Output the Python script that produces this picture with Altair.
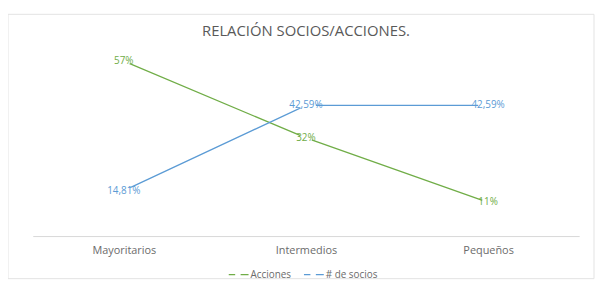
import altair as alt
import pandas as pd

categories = ["Mayoritarios", "Intermedios", "Pequeños"]
acciones = [57, 32, 11]
acciones_labels = ["57%", "32%", "11%"]
socios = [14.81, 42.59, 42.59]
socios_labels = ["14,81%", "42,59%", "42,59%"]
series_names = ["Acciones", "# de socios"]
colors = ["#70AD47", "#5B9BD5"]
title_text = "RELACIÓN SOCIOS/ACCIONES."

rows = []
for c, v, l in zip(categories, acciones, acciones_labels):
    rows.append({"cat": c, "val": v, "lab": l, "serie": series_names[0], "box": "a"})
for c, v, l in zip(categories, socios, socios_labels):
    rows.append({"cat": c, "val": v, "lab": l, "serie": series_names[1], "box": "b"})
df = pd.DataFrame(rows)

W, H = 552, 186
FONT = "Open Sans"

x = alt.X("cat:N", sort=categories, title=None,
          axis=alt.Axis(domainColor="#d9d9d9", ticks=False, labelAngle=0,
                        labelFontSize=11, labelColor="#6b6b6b", labelFont=FONT,
                        labelPadding=9, grid=False))
y = alt.Y("val:Q", scale=alt.Scale(domain=[0, 60]), axis=None)
color_scale = alt.Scale(domain=series_names, range=colors)
color = alt.Color("serie:N", scale=color_scale,
                  legend=alt.Legend(title=None, orient="none", direction="horizontal",
                                    legendX=197, legendY=214,
                                    symbolType="M-1,0L-0.35,0M0.2,0L1,0",
                                    symbolStrokeWidth=1.2, symbolSize=400,
                                    labelFont=FONT, labelFontSize=10, labelColor="#6b6b6b",
                                    columnPadding=10, labelOffset=1))

frame = alt.Chart(alt.Data(values=[{}])).mark_rect(
    fill=None, stroke="#e3e3e3", strokeWidth=1, clip=False
).encode(x=alt.value(-25), x2=alt.value(567), y=alt.value(-38), y2=alt.value(229))

title = alt.Chart(alt.Data(values=[{"t": title_text}])).mark_text(
    font=FONT, fontSize=15, color="#595959", baseline="middle", align="center"
).encode(x=alt.value(W / 2), y=alt.value(-21), text="t:N")

lines = alt.Chart(df).mark_line(strokeWidth=1.3).encode(x=x, y=y, color=color, detail="serie:N")

box_acc = "M-0.3,-0.14L0.3,-0.14L0.3,0.14L-0.3,0.14Z"
box_soc = "M-0.5,-0.14L0.5,-0.14L0.5,0.14L-0.5,0.14Z"
boxes = alt.Chart(df).mark_point(filled=True, fill="white", opacity=1, strokeWidth=0).encode(
    x=x, y=y, size=alt.value(1600),
    shape=alt.Shape("box:N", scale=alt.Scale(domain=["a", "b"], range=[box_acc, box_soc]),
                    legend=None))

labels = alt.Chart(df).mark_text(fontSize=10, font=FONT, baseline="middle").encode(
    x=x, y=y, text="lab:N",
    color=alt.Color("serie:N", scale=color_scale, legend=None))

chart = alt.layer(frame, title, lines, boxes, labels).properties(
    width=W, height=H,
    autosize=alt.AutoSizeParams(type="none"),
    padding={"left": 25, "top": 43, "right": 16, "bottom": 44},
).configure_view(stroke=None)

chart.save("out.html", embed_options={"renderer": "svg", "actions": False})
